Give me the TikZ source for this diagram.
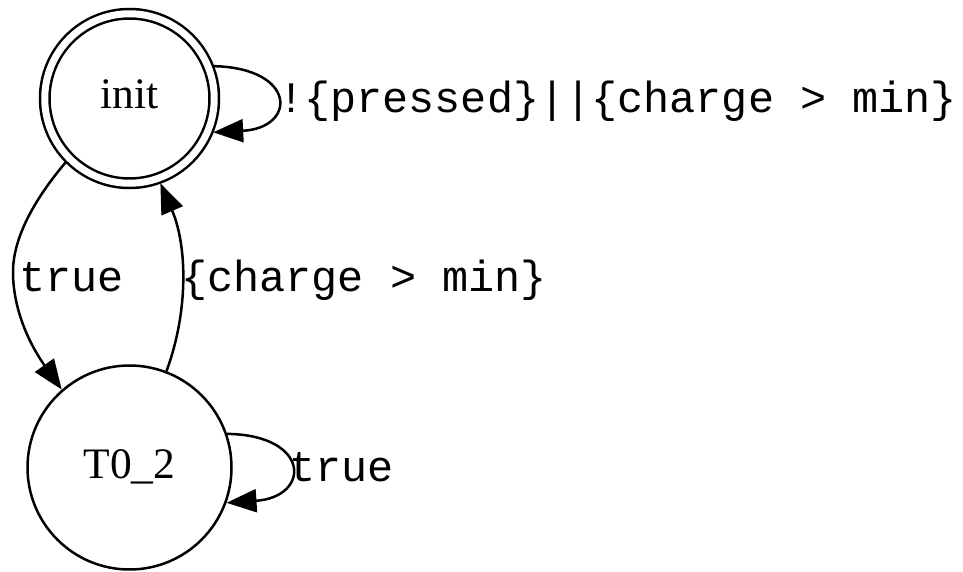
\documentclass[tikz,border=0pt]{standalone}
\usepackage{fontspec}
\setmainfont{Liberation Serif}
\newfontfamily\monofam{Liberation Mono}
\usetikzlibrary{arrows.meta}

\tikzset{
  state/.style={circle, draw, line width=2.5pt, inner sep=0pt,
    font=\fontsize{43.5}{43.5}\selectfont, text height=31pt, text depth=10pt},
  accepting/.style={double, double distance=7pt, outer sep=5.5pt},
  edge/.style={line width=2.5pt, -{Triangle[length=30pt,width=23pt]}},
  lbl/.style={inner sep=0pt, font=\monofam\fontsize{43.5}{43.5}\selectfont}
}

\begin{document}
\begin{tikzpicture}[x=1pt, y=-1pt]
  \useasboundingbox (0,0) rectangle (963,572);

  % states
  \node[state, accepting, minimum size=169.5pt] (init) at (129.5,98.5) {init};
  \node[state, minimum size=204pt] (T0) at (129.5,467.5) {T0\_2};

  % transitions between the two states
  \coordinate (bulge) at (13,272);
  \draw[edge] (init.225) .. controls (38,195) and (13,235) .. (bulge)
                         .. controls (13,310) and (30,345) .. (T0.131);
  \draw[edge] (T0.69) .. controls (189,310) and (187,245) .. (init.290);

  % self loops
  \draw[edge] (init.21) .. controls (297,68) and (297,128) .. (init.-22);
  \draw[edge] (T0.19.5) .. controls (311,435) and (311,497) .. (T0.-20);

  % transition labels
  \node[lbl, anchor=base west] (linit) at (278,113) {!\{pressed\}||\{charge > min\}};
  \node[lbl, anchor=base west] (ldown) at (19,291) {true};
  \node[lbl, anchor=base west] (lup) at (181,291) {\{charge > min\}};
  \node[lbl, anchor=base west] (lT0) at (289,481) {true};
\end{tikzpicture}
\end{document}
